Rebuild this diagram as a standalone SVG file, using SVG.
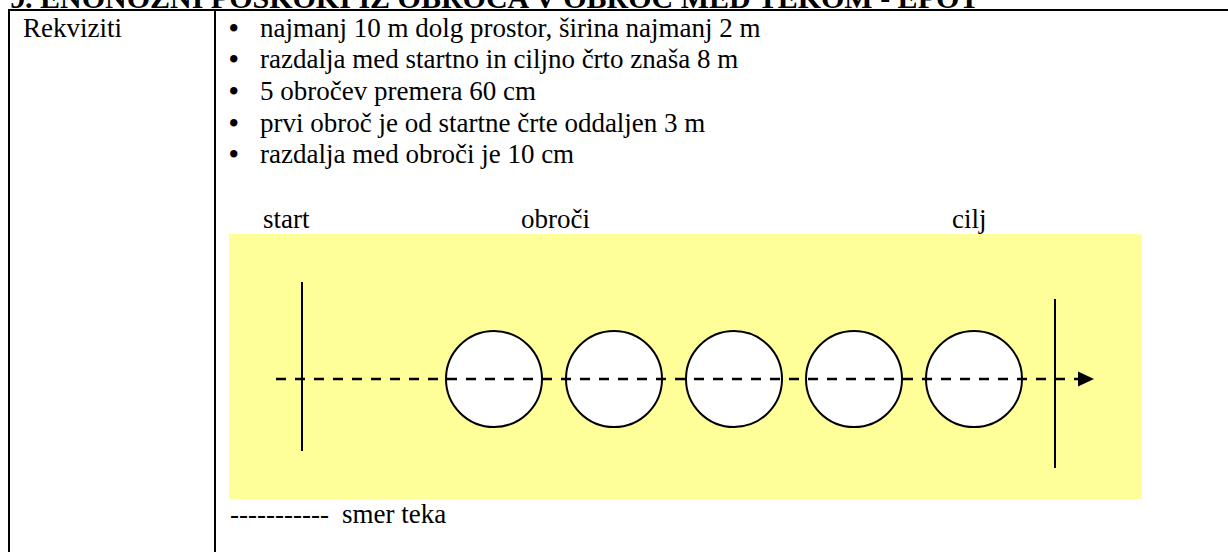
<svg xmlns="http://www.w3.org/2000/svg" width="1228" height="552" viewBox="0 0 1228 552">
<style>
.t{font-family:'Liberation Serif','Times New Roman',Times,'DejaVu Serif',serif;font-size:27px;fill:#000}
.b{font-weight:bold}
.h{font-family:'Liberation Serif','Times New Roman',Times,'DejaVu Serif',serif;font-size:30px;font-weight:bold;fill:#000}
.rule{stroke:#000;stroke-width:2;fill:none}
.hoop{fill:#fff;stroke:#000;stroke-width:2}
.path{stroke:#000;stroke-width:2.5;stroke-dasharray:10 9;fill:none}
</style>
<defs>
<marker id="arrow" markerUnits="userSpaceOnUse" markerWidth="16" markerHeight="16" refX="0" refY="8" orient="auto">
<path d="M0,0.5 L16,8 L0,15.5 Z" fill="#000"/>
</marker>
</defs>
<rect width="1228" height="552" fill="#fff"/>
<g id="title">
<text class="h" x="10" y="8">9. ENONOŽNI POSKOKI IZ OBROČA V OBROČ MED TEKOM - EPOT</text>
</g>
<g id="table">
<line class="rule" x1="8" y1="10" x2="1228" y2="10"/>
<line class="rule" x1="9" y1="9" x2="9" y2="552"/>
<line class="rule" x1="215" y1="9" x2="215" y2="552"/>
<text class="t" x="23" y="36.5">Rekviziti</text>
</g>
<g id="list">
<text class="t" y="36.5"><tspan class="b" x="229">•</tspan><tspan x="260">najmanj 10 m dolg prostor, širina najmanj 2 m</tspan></text>
<text class="t" y="68.2"><tspan class="b" x="229">•</tspan><tspan x="260">razdalja med startno in ciljno črto znaša 8 m</tspan></text>
<text class="t" y="99.9"><tspan class="b" x="229">•</tspan><tspan x="260">5 obročev premera 60 cm</tspan></text>
<text class="t" y="131.6"><tspan class="b" x="229">•</tspan><tspan x="260">prvi obroč je od startne črte oddaljen 3 m</tspan></text>
<text class="t" y="163.3"><tspan class="b" x="229">•</tspan><tspan x="260">razdalja med obroči je 10 cm</tspan></text>
</g>
<g id="labels">
<text class="t" x="263" y="228">start</text>
<text class="t" x="521" y="228">obroči</text>
<text class="t" x="952" y="228">cilj</text>
</g>
<g id="field">
<rect x="229" y="234" width="913" height="265" fill="#ffff99"/>
</g>
<g id="start-line"><line class="rule" x1="302" y1="282" x2="302" y2="451"/></g>
<g id="hoop1"><circle class="hoop" cx="494" cy="379" r="48"/></g>
<g id="hoop2"><circle class="hoop" cx="614" cy="379" r="48"/></g>
<g id="hoop3"><circle class="hoop" cx="734" cy="379" r="48"/></g>
<g id="hoop4"><circle class="hoop" cx="854" cy="379" r="48"/></g>
<g id="hoop5"><circle class="hoop" cx="974" cy="379" r="48"/></g>
<g id="finish-line"><line class="rule" x1="1055" y1="299" x2="1055" y2="468"/></g>
<g id="connectors">
<line class="path" x1="276" y1="379" x2="1078" y2="379" marker-end="url(#arrow)"/>
</g>
<g id="legend">
<text class="t" x="230" y="523">-----------<tspan x="342">smer teka</tspan></text>
</g>
</svg>
